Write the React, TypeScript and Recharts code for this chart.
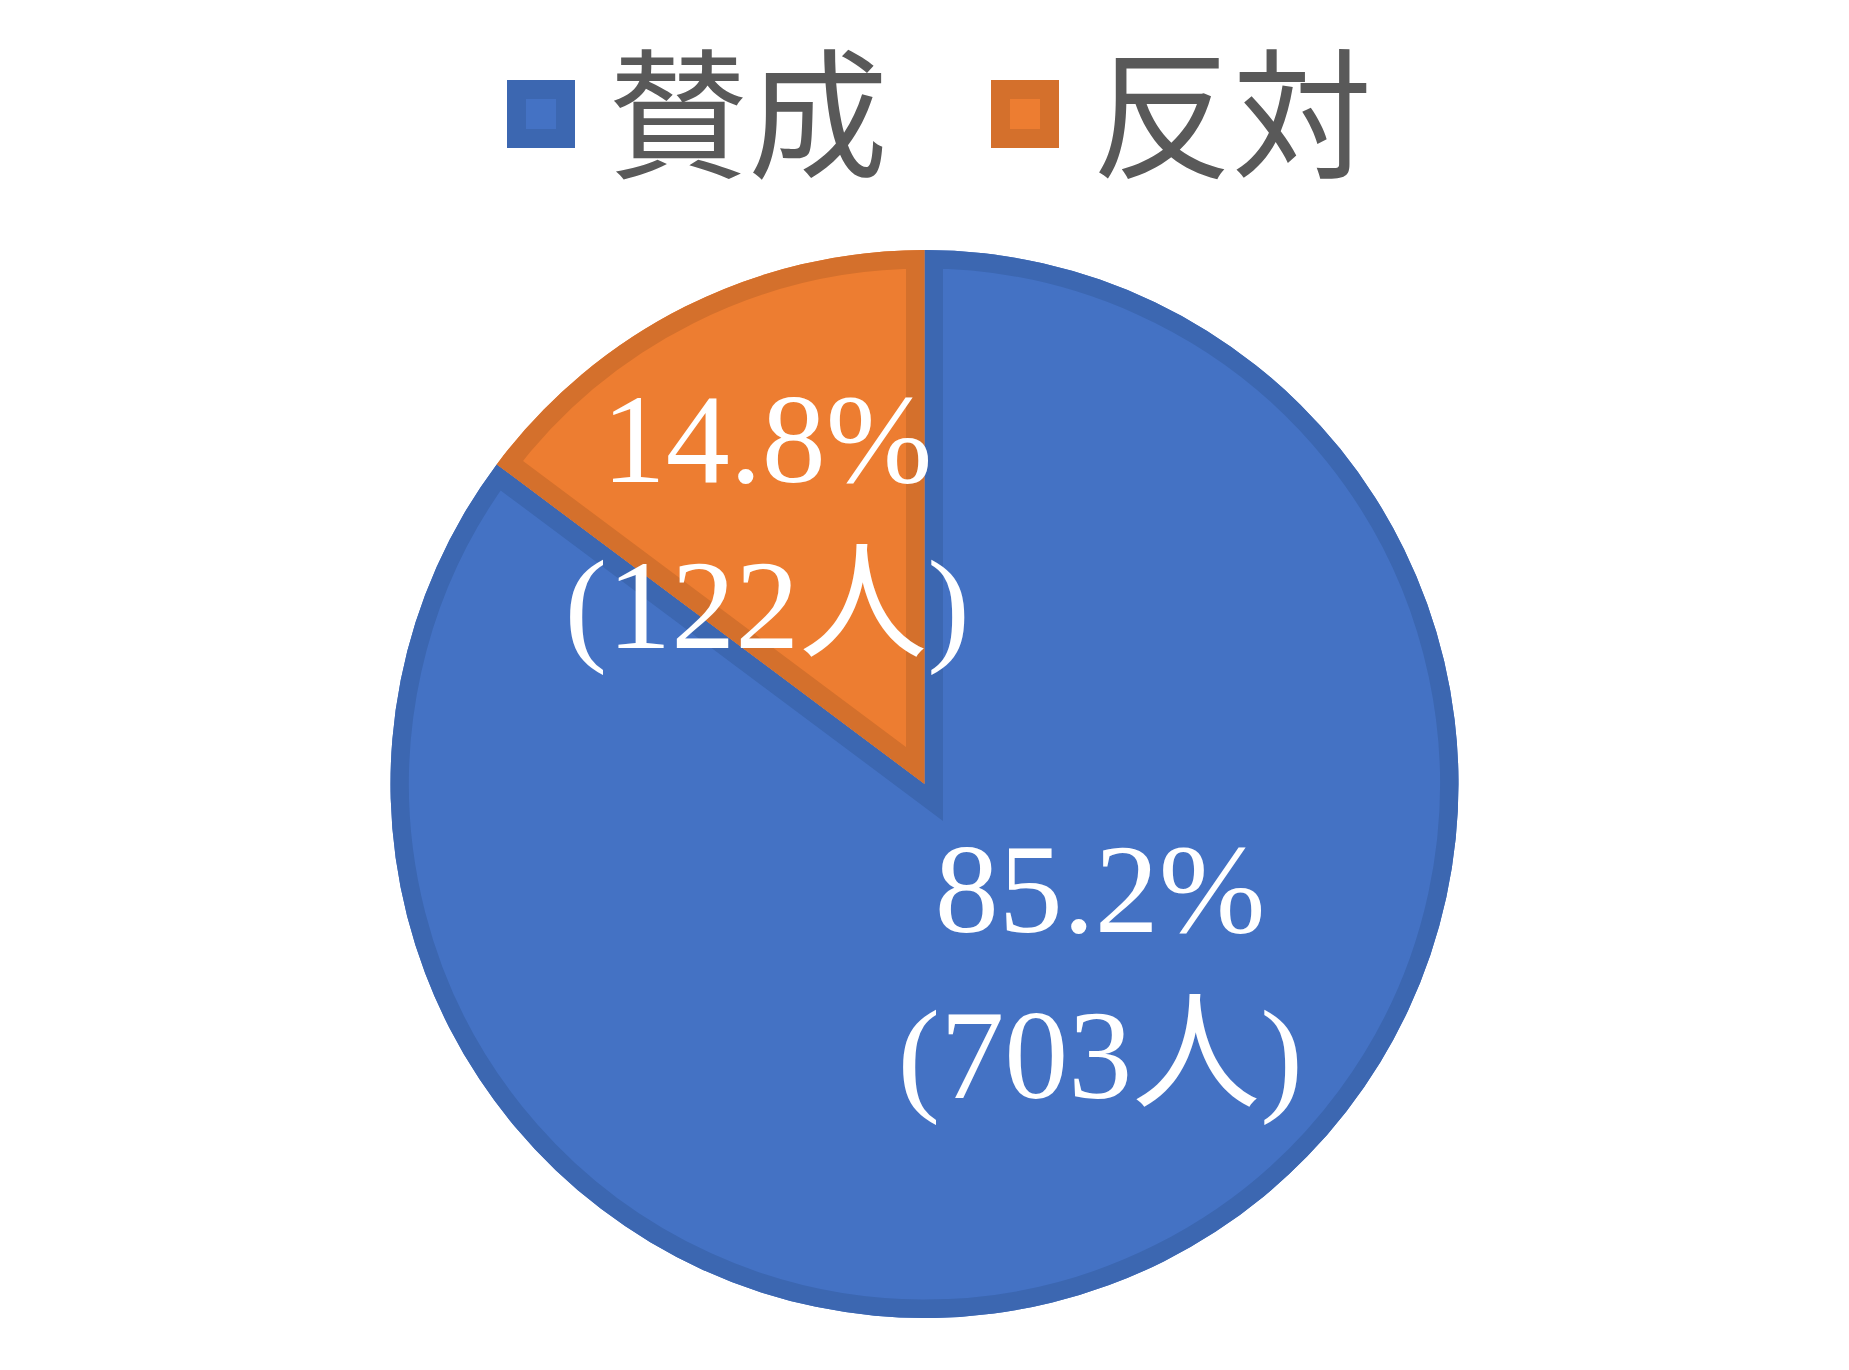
import React from 'react';
import { PieChart, Pie, Cell, Legend, Sector } from 'recharts';

const CATEGORIES = ['賛成', '反対'];
const COUNTS = [703, 122];
const FILLS = ['#4472C4', '#ED7D31'];
const BORDERS = ['#3C67B1', '#D4702C'];

// where each data label sits: fraction of the radius, angle clockwise from 12 o'clock
const LABEL_RADIUS = [0.544, 0.505];
const LABEL_ANGLE = [142.8, -35.7];

const W = 1849;
const H = 1370;
const LEGEND_H = 200;
const BORDER_W = 18.5;
const LABEL_FONT = "'Liberation Serif', 'Noto Sans CJK JP', serif";
const LEGEND_FONT = "'Noto Sans CJK JP', sans-serif";

const data = CATEGORIES.map((name, i) => ({ name, value: COUNTS[i] }));

const renderLabel = (props: any) => {
  const { cx, cy, innerRadius, outerRadius, startAngle, endAngle, percent, value, index } = props;
  const clipId = `slice-clip-${index}`;
  const a = (LABEL_ANGLE[index] * Math.PI) / 180;
  const x = cx + outerRadius * LABEL_RADIUS[index] * Math.sin(a);
  const y = cy - outerRadius * LABEL_RADIUS[index] * Math.cos(a);
  const geom = { cx, cy, innerRadius, outerRadius, startAngle, endAngle };
  return (
    <g>
      <defs>
        <clipPath id={clipId}>
          <Sector {...geom} />
        </clipPath>
      </defs>
      {/* inner border, kept inside the slice like Excel does */}
      <g clipPath={`url(#${clipId})`}>
        <Sector {...geom} fill="none" stroke={BORDERS[index]} strokeWidth={BORDER_W * 2} />
      </g>
      <text x={x} y={y} textAnchor="middle" fill="#FFFFFF" fontFamily={LABEL_FONT} fontSize={128}>
        <tspan x={x} dy={-83}>{`${(percent * 100).toFixed(1)}%`}</tspan>
        <tspan x={x} dy={166}>{`(${value}人)`}</tspan>
      </text>
    </g>
  );
};

const renderLegend = () => (
  <div
    style={{
      width: W,
      height: LEGEND_H,
      boxSizing: 'border-box',
      paddingTop: 27,
      paddingLeft: 507,
      display: 'flex',
      justifyContent: 'flex-start',
      alignItems: 'center',
    }}
  >
    {CATEGORIES.map((name, i) => (
      <div key={name} style={{ display: 'flex', alignItems: 'center', marginRight: i === 0 ? 103 : 0 }}>
        <div
          style={{
            width: 68,
            height: 68,
            boxSizing: 'border-box',
            background: FILLS[i],
            border: `19px solid ${BORDERS[i]}`,
            marginRight: 33,
          }}
        />
        <span
          style={{
            fontFamily: LEGEND_FONT,
            fontSize: 140,
            lineHeight: 1,
            color: '#595959',
            position: 'relative',
            top: -8,
          }}
        >
          {name}
        </span>
      </div>
    ))}
  </div>
);

export default function App() {
  return (
    <div style={{ position: 'absolute', left: 0, top: 0, width: W, height: H, background: '#FFFFFF' }}>
      <PieChart width={W} height={H} margin={{ top: 0, right: 0, bottom: 0, left: 0 }}>
        <Legend
          verticalAlign="top"
          height={LEGEND_H}
          wrapperStyle={{ top: 0, left: 0, width: W }}
          content={renderLegend}
        />
        <Pie
          data={data}
          dataKey="value"
          nameKey="name"
          cx={924.5}
          cy={784 - LEGEND_H}
          outerRadius={534}
          startAngle={90}
          endAngle={-270}
          stroke="none"
          labelLine={false}
          label={renderLabel}
          isAnimationActive={false}
        >
          {data.map((d, i) => (
            <Cell key={d.name} fill={FILLS[i]} />
          ))}
        </Pie>
      </PieChart>
    </div>
  );
}
